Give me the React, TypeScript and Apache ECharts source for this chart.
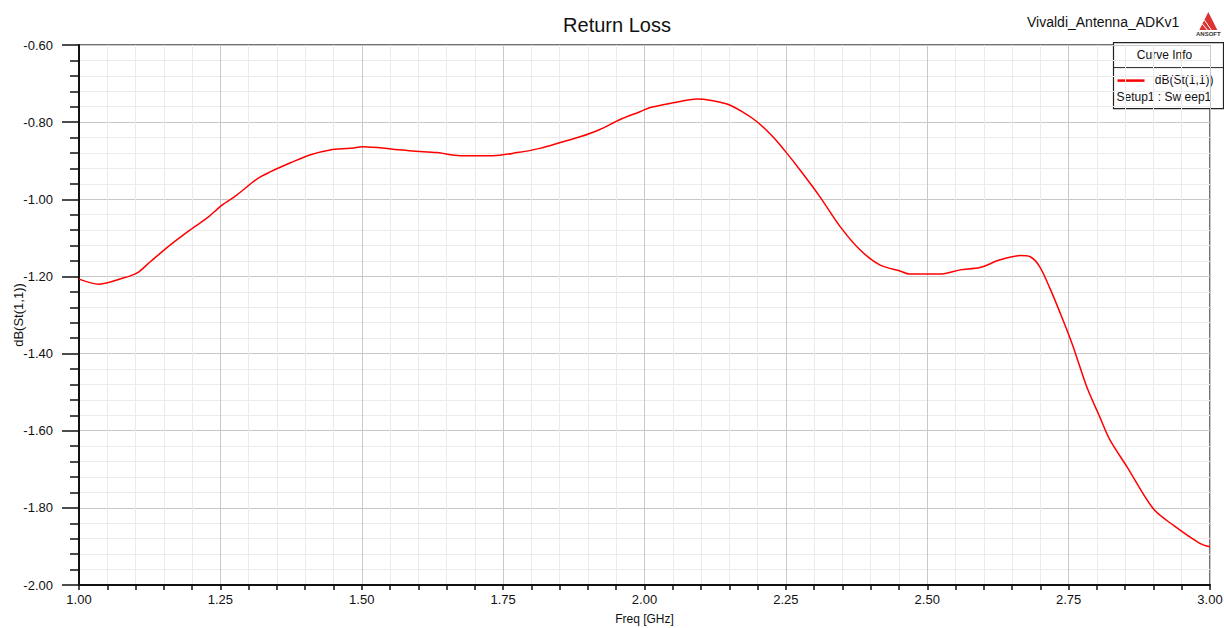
import React, { useEffect, useRef } from "react";
import * as echarts from "echarts";

const freqGHz = [
  1.0, 1.035, 1.081, 1.103, 1.126, 1.161, 1.196, 1.226, 1.253, 1.279, 1.315, 1.338, 1.373,
  1.408, 1.444, 1.479, 1.502, 1.555, 1.591, 1.633, 1.674, 1.732, 1.775, 1.815, 1.851, 1.886,
  1.921, 1.957, 1.992, 2.01, 2.05, 2.093, 2.116, 2.146, 2.174, 2.199, 2.227, 2.252, 2.275,
  2.31, 2.346, 2.381, 2.416, 2.452, 2.469, 2.523, 2.558, 2.593, 2.629, 2.664, 2.682, 2.699,
  2.717, 2.74, 2.758, 2.782, 2.805, 2.823, 2.853, 2.899, 2.935, 2.982, 3.0,
];
const dbS11 = [
  -1.207, -1.22, -1.203, -1.191, -1.162, -1.119, -1.08, -1.049, -1.015, -0.989, -0.947, -0.929,
  -0.906, -0.885, -0.872, -0.868, -0.864, -0.87, -0.875, -0.879, -0.887, -0.887, -0.879, -0.868,
  -0.853, -0.838, -0.819, -0.793, -0.773, -0.762, -0.75, -0.74, -0.743, -0.753, -0.774, -0.799,
  -0.838, -0.881, -0.924, -0.993, -1.071, -1.131, -1.17, -1.186, -1.194, -1.194, -1.183, -1.177,
  -1.157, -1.146, -1.149, -1.175, -1.231, -1.313, -1.382, -1.486, -1.564, -1.624, -1.693, -1.801,
  -1.845, -1.892, -1.901,
];

const titleText = "Return Loss";
const designName = "Vivaldi_Antenna_ADKv1";
const xName = "Freq [GHz]";
const yName = "dB(St(1,1))";
const legendHeader = "Curve Info";
const seriesName = "dB(St(1,1))";
const sweepName = "Setup1 : Sw eep1";

const FONT = "'Liberation Sans', Arial, sans-serif";

export default function App() {
  const ref = useRef<HTMLDivElement>(null);
  useEffect(() => {
    if (!ref.current) return;
    const chart = echarts.init(ref.current, null, { renderer: "svg" });
    const data = freqGHz.map((f, i) => [f, dbS11[i]]);
    chart.setOption({
      animation: false,
      backgroundColor: "#ffffff",
      textStyle: { fontFamily: FONT },
      title: {
        text: titleText,
        left: 612,
        textAlign: "center",
        top: 10,
        textStyle: { fontFamily: FONT, fontSize: 20, fontWeight: "normal", color: "#111" },
      },
      grid: {
        left: 79,
        right: 14,
        top: 45,
        bottom: 43,
        containLabel: false,
        outerBoundsMode: "none",
        show: true,
        borderColor: "#444",
        borderWidth: 1.5,
        backgroundColor: "transparent",
      },
      xAxis: {
        type: "value",
        min: 1,
        max: 3,
        interval: 0.25,
        name: xName,
        nameLocation: "middle",
        nameGap: 28,
        nameMoveOverlap: false,
        nameTextStyle: { fontFamily: FONT, fontSize: 12, color: "#111" },
        axisLine: { show: true, onZero: false, lineStyle: { color: "#111", width: 2 } },
        axisTick: { show: true, length: 5, lineStyle: { color: "#111", width: 1.5 } },
        minorTick: { show: true, splitNumber: 5, length: 5, lineStyle: { color: "#111", width: 1.5 } },
        axisLabel: {
          fontFamily: FONT,
          fontSize: 13,
          color: "#111",
          margin: 8,
          formatter: (v: number) => v.toFixed(2),
        },
        splitLine: { show: true, lineStyle: { color: "#c8c8c8", width: 1 } },
        minorSplitLine: { show: true, lineStyle: { color: "#ebebeb", width: 1 } },
      },
      yAxis: {
        type: "value",
        min: -2,
        max: -0.6,
        interval: 0.2,
        name: yName,
        nameLocation: "middle",
        nameGap: 54,
        nameMoveOverlap: false,
        nameTextStyle: { fontFamily: FONT, fontSize: 13, color: "#111" },
        axisLine: { show: true, onZero: false, lineStyle: { color: "#111", width: 2 } },
        axisTick: { show: true, length: 17, lineStyle: { color: "#111", width: 1.5 } },
        minorTick: { show: true, splitNumber: 5, length: 9, lineStyle: { color: "#111", width: 1.5 } },
        axisLabel: {
          fontFamily: FONT,
          fontSize: 13,
          color: "#111",
          margin: 26,
          formatter: (v: number) => v.toFixed(2),
        },
        splitLine: { show: true, lineStyle: { color: "#c8c8c8", width: 1 } },
        minorSplitLine: { show: true, lineStyle: { color: "#ebebeb", width: 1 } },
      },
      series: [
        {
          type: "line",
          name: seriesName,
          data,
          smooth: 0.3,
          showSymbol: false,
          lineStyle: { color: "#ff0000", width: 1.5 },
          z: 3,
        },
      ],
      graphic: [
        {
          type: "text",
          left: 1027,
          top: 15,
          style: { text: designName, font: `14px ${FONT}`, fill: "#111" },
        },
        {
          type: "group",
          left: 1196,
          top: 12,
          children: [
            { type: "polygon", shape: { points: [[12, 0], [3, 18], [21, 18]] }, style: { fill: "#d33" } },
            { type: "line", shape: { x1: 8, y1: 8, x2: 15, y2: 18 }, style: { stroke: "#fff", lineWidth: 1 } },
            { type: "line", shape: { x1: 6, y1: 12, x2: 11, y2: 18 }, style: { stroke: "#fff", lineWidth: 1 } },
            {
              type: "text",
              x: 12,
              y: 19,
              style: { text: "ANSOFT", font: `bold 6px ${FONT}`, fill: "#333", align: "center" },
            },
          ],
        },
        {
          type: "group",
          left: 1111,
          top: 42,
          z: 10,
          children: [
            {
              type: "rect",
              shape: { x: 0, y: 0, width: 110, height: 66 },
              style: { fill: "#ffffff", stroke: "#222", lineWidth: 1.2 },
            },
            { type: "line", shape: { x1: 0, y1: 25, x2: 110, y2: 25 }, style: { stroke: "#222", lineWidth: 1 } },
            {
              type: "text",
              x: 51,
              y: 6,
              style: { text: legendHeader, font: `12px ${FONT}`, fill: "#111", align: "center" },
            },
            { type: "line", shape: { x1: 4, y1: 38, x2: 31, y2: 38 }, style: { stroke: "#ff0000", lineWidth: 2.5 } },
            {
              type: "text",
              x: 100,
              y: 31,
              style: { text: seriesName, font: `12px ${FONT}`, fill: "#111", align: "right" },
            },
            {
              type: "text",
              x: 3,
              y: 48,
              style: { text: sweepName, font: `12px ${FONT}`, fill: "#111" },
            },
          ],
        },
      ],
    });
    return () => chart.dispose();
  }, []);
  return <div ref={ref} style={{ width: 1224, height: 628, position: "fixed", left: 0, top: 0 }} />;
}
